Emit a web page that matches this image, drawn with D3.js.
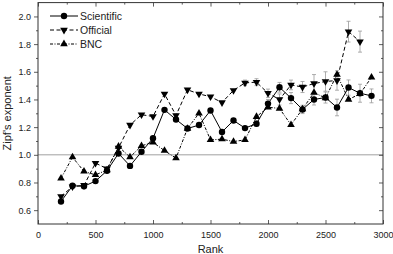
<!DOCTYPE html>
<html>
<head>
<meta charset="utf-8">
<script src="https://cdn.jsdelivr.net/npm/d3@7"></script>
<style>
  body { margin: 0; background: #fff; }
  svg { display: block; font-family: "Liberation Sans", Arial, sans-serif; }
</style>
</head>
<body>
<svg width="393" height="254"></svg>
<script>
// ranks (x) and Zipf exponents
var ranks = [200, 300, 400, 500, 600, 700, 800, 900, 1000, 1100, 1200, 1300, 1400, 1500,
             1600, 1700, 1800, 1900, 2000, 2100, 2200, 2300, 2400, 2500, 2600, 2700, 2800, 2900];

var scientific = [0.663, 0.776, 0.773, 0.81, 0.885, 1.01, 0.92, 1.022, 1.12, 1.325, 1.255, 1.19, 1.215, 1.32,
                  1.165, 1.248, 1.193, 1.225, 1.37, 1.488, 1.41, 1.328, 1.40, 1.414, 1.342, 1.486, 1.445, 1.426];
var scientificErr = [0, 0, 0, 0, 0, 0, 0, 0, 0, 0, 0, 0, 0, 0,
                     0, 0, 0, 0.02, 0.03, 0.035, 0.04, 0.03, 0.04, 0.04, 0.06, 0.055, 0.065, 0.05];

// official stops at 2800
var official = [0.70, 0.77, 0.78, 0.94, 0.90, 1.05, 1.215, 1.29, 1.277, 1.44, 1.285, 1.47, 1.44, 1.42,
                1.378, 1.466, 1.52, 1.525, 1.445, 1.40, 1.505, 1.49, 1.515, 1.53, 1.537, 1.89, 1.818];
var officialErr = [0, 0, 0, 0, 0, 0, 0, 0, 0, 0, 0, 0, 0, 0,
                   0, 0, 0.02, 0.025, 0.03, 0.04, 0.035, 0.04, 0.065, 0.07, 0.07, 0.075, 0.076];

var bnc = [0.83, 0.983, 0.88, 0.855, 0.89, 1.06, 0.983, 1.065, 1.09, 1.03, 0.976, 1.19, 1.30, 1.108,
           1.113, 1.096, 1.108, 1.275, 1.344, 1.335, 1.217, 1.33, 1.45, 1.41, 1.58, 1.40, 1.44, 1.56];

var xTicks = [0, 500, 1000, 1500, 2000, 2500, 3000];
var yTicks = [0.6, 0.8, 1.0, 1.2, 1.4, 1.6, 1.8, 2.0];

var margin = { top: 2.6, right: 10, bottom: 30, left: 38 };
var width = 393, height = 254;

var svg = d3.select('svg');

var x = d3.scaleLinear().domain([0, 3000]).range([margin.left, width - margin.right]);
var y = d3.scaleLinear().domain([0.5, 2.1]).range([height - margin.bottom, margin.top]);

var axisColor = '#333';

// reference line at 1.0
svg.append('line')
    .attr('x1', x(0)).attr('x2', x(3000))
    .attr('y1', y(1)).attr('y2', y(1))
    .attr('stroke', '#888').attr('stroke-width', 0.8);

// minor tick values
var xMinor = d3.range(250, 3000, 500);
var yMinor = d3.range(0.7, 2.1, 0.2);

function styleAxis(g) {
    g.select('.domain').remove();
    g.selectAll('line').attr('stroke', axisColor).attr('stroke-width', 0.8);
    g.selectAll('text').attr('fill', '#222').style('font-size', '9px');
}

// bottom axis, ticks inward
svg.append('g')
    .attr('transform', 'translate(0,' + y(0.5) + ')')
    .call(d3.axisBottom(x).tickValues(xTicks).tickSize(-4).tickPadding(8).tickFormat(d3.format('d')))
    .call(styleAxis);
svg.append('g')
    .attr('transform', 'translate(0,' + y(0.5) + ')')
    .call(d3.axisBottom(x).tickValues(xMinor).tickSize(-2).tickFormat(''))
    .call(styleAxis);

// top axis ticks inward
svg.append('g')
    .attr('transform', 'translate(0,' + y(2.1) + ')')
    .call(d3.axisTop(x).tickValues(xTicks).tickSize(-4).tickFormat(''))
    .call(styleAxis);
svg.append('g')
    .attr('transform', 'translate(0,' + y(2.1) + ')')
    .call(d3.axisTop(x).tickValues(xMinor).tickSize(-2).tickFormat(''))
    .call(styleAxis);

// left axis, ticks outward
svg.append('g')
    .attr('transform', 'translate(' + x(0) + ',0)')
    .call(d3.axisLeft(y).tickValues(yTicks).tickSize(4).tickPadding(3).tickFormat(d3.format('.1f')))
    .call(styleAxis);
svg.append('g')
    .attr('transform', 'translate(' + x(0) + ',0)')
    .call(d3.axisLeft(y).tickValues(yMinor).tickSize(2).tickFormat(''))
    .call(styleAxis);

// right axis, ticks inward
svg.append('g')
    .attr('transform', 'translate(' + x(3000) + ',0)')
    .call(d3.axisRight(y).tickValues(yTicks).tickSize(-4).tickFormat(''))
    .call(styleAxis);
svg.append('g')
    .attr('transform', 'translate(' + x(3000) + ',0)')
    .call(d3.axisRight(y).tickValues(yMinor).tickSize(-2).tickFormat(''))
    .call(styleAxis);

// frame
svg.append('rect')
    .attr('x', x(0)).attr('y', y(2.1))
    .attr('width', x(3000) - x(0)).attr('height', y(0.5) - y(2.1))
    .attr('fill', 'none').attr('stroke', axisColor).attr('stroke-width', 1);

// axis titles
svg.append('text')
    .attr('x', (x(0) + x(3000)) / 2).attr('y', 252.5)
    .attr('text-anchor', 'middle')
    .style('font-size', '11px').attr('fill', '#222')
    .text('Rank');

svg.append('text')
    .attr('transform', 'translate(11,' + (y(0.5) + y(2.1)) / 2 + ') rotate(-90)')
    .attr('text-anchor', 'middle')
    .style('font-size', '11px').attr('fill', '#222')
    .text("Zipf's exponent");

var series = [
    { name: 'Scientific', values: scientific, err: scientificErr, dash: null, marker: 'circle' },
    { name: 'Official', values: official, err: officialErr, dash: '4,2.5', marker: 'down' },
    { name: 'BNC', values: bnc, err: null, dash: '3,1.5,1,1.5', marker: 'up' }
];

var tri = d3.symbol().type(d3.symbolTriangle).size(25);

function drawMarker(g, kind) {
    if (kind === 'circle') {
        g.append('circle').attr('r', 3.2).attr('fill', '#000');
    } else {
        g.append('path').attr('d', tri())
            .attr('transform', kind === 'down' ? 'rotate(180)' : null)
            .attr('fill', '#000');
    }
}

// error bars first (gray)
series.forEach(function (s) {
    if (!s.err) return;
    var pts = s.values.map(function (v, i) { return { r: ranks[i], v: v, e: s.err[i] }; })
        .filter(function (d) { return d.e > 0; });
    var eb = svg.append('g').attr('stroke', '#999').attr('stroke-width', 0.8);
    pts.forEach(function (d) {
        eb.append('line').attr('x1', x(d.r)).attr('x2', x(d.r))
            .attr('y1', y(d.v - d.e)).attr('y2', y(d.v + d.e));
        [d.v - d.e, d.v + d.e].forEach(function (yy) {
            eb.append('line').attr('x1', x(d.r) - 2).attr('x2', x(d.r) + 2)
                .attr('y1', y(yy)).attr('y2', y(yy));
        });
    });
});

var line = d3.line()
    .x(function (d) { return x(d.r); })
    .y(function (d) { return y(d.v); });

series.forEach(function (s) {
    var pts = s.values.map(function (v, i) { return { r: ranks[i], v: v }; });
    svg.append('path')
        .datum(pts)
        .attr('d', line)
        .attr('fill', 'none')
        .attr('stroke', '#000')
        .attr('stroke-width', 1)
        .attr('stroke-dasharray', s.dash);
    pts.forEach(function (d) {
        var g = svg.append('g').attr('transform', 'translate(' + x(d.r) + ',' + y(d.v) + ')');
        drawMarker(g, s.marker);
    });
});

// legend
var legend = svg.append('g').attr('transform', 'translate(50,16)');
series.forEach(function (s, i) {
    var row = legend.append('g').attr('transform', 'translate(0,' + (i * 14) + ')');
    row.append('line').attr('x1', 0).attr('x2', 28).attr('y1', 0).attr('y2', 0)
        .attr('stroke', '#000').attr('stroke-width', 1).attr('stroke-dasharray', s.dash);
    var m = row.append('g').attr('transform', 'translate(14,0)');
    drawMarker(m, s.marker);
    row.append('text').attr('x', 30).attr('y', 3.6)
        .style('font-size', '10.5px').attr('fill', '#222')
        .text(s.name);
});
</script>
</body>
</html>
